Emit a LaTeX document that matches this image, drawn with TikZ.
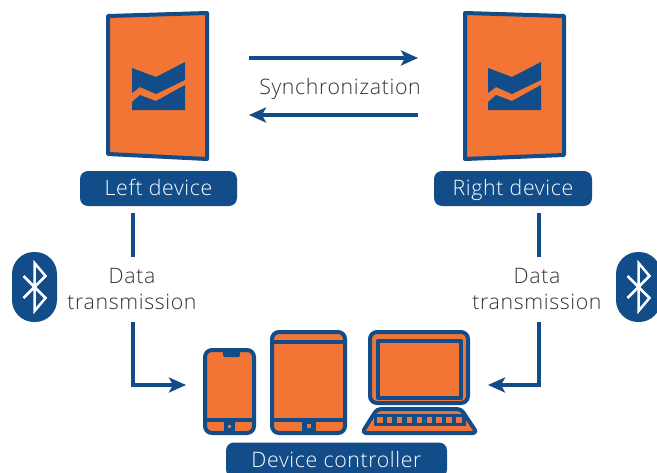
\documentclass[tikz,border=0pt]{standalone}
\usepackage{fontspec}
\setmainfont[LetterSpace=3,UprightFont=* Light]{Open Sans}
\usetikzlibrary{arrows.meta}
\definecolor{navy}{HTML}{124C89}
\definecolor{peel}{HTML}{F37535}
\tikzset{
	outline/.style={draw=navy,fill=peel,line width=4pt,line join=round},
	plainbar/.style={draw=navy,line width=4pt},
	flow/.style={navy,line width=4pt,-{Stealth[length=17pt,width=15pt,inset=4pt]}},
	wire/.style={navy,line width=4pt},
	caption/.style={fill=navy,text=white,rounded corners=8pt,minimum height=35pt,inner sep=0pt,text height=17pt,text depth=3pt,font=\fontsize{21.3}{21.3}\selectfont},
	plaintext/.style={text=black!80,inner sep=0pt,align=center,font=\fontsize{21.3}{26}\selectfont},
	oval/.style={fill=navy,rounded corners=22pt,minimum width=45pt,minimum height=70pt,inner sep=0pt},
	rune/.style={draw=white,line width=2.5pt,line join=miter}
}
\begin{document}
\begin{tikzpicture}[x=1pt,y=-1pt]
	\clip (0,0) rectangle (657,472);
	% earbuds
	\draw[outline] (108,16) -- (207,13) -- (207,159) -- (108,154) -- cycle;
	\draw[outline] (465,13) -- (564,16) -- (564,155) -- (465,159) -- cycle;
	\foreach \shiftx in {0,356} {
		\begin{scope}[xshift=\shiftx pt]
			\fill[navy] (132,68) -- (156,77) -- (185,62) -- (185,80) -- (156,94) -- (140,87) -- (132,93) -- cycle;
			\fill[navy] (132,102) -- (140,95) -- (156,101) -- (185,85) -- (185,110) -- (132,110) -- cycle;
		\end{scope}
	}
	\node[caption,minimum width=157pt] (left) at (158.5,188.5) {Left device};
	\node[caption,minimum width=158pt] (right) at (513,188.5) {Right device};
	\node[caption,minimum width=221pt] (controller) at (336.5,460) {Device controller};
	% sync
	\coordinate (syncleft) at (249,58);
	\coordinate (syncright) at (418,58);
	\coordinate (backright) at (418,115);
	\coordinate (backleft) at (249,115);
	\draw[flow] (syncleft) -- (syncright);
	\draw[flow] (backright) -- (backleft);
	\node[plaintext] (sync) at (340,89) {Synchronization};
	% data links
	\node[plaintext] (leftdata) at (132,289) {Data\\transmission};
	\node[plaintext] (rightdata) at (537,289) {Data\\transmission};
	\coordinate (lefttop) at (133,213);
	\coordinate (leftgap) at (133,257);
	\coordinate (leftdown) at (133,322);
	\coordinate (phonein) at (186,385);
	\coordinate (righttop) at (539,213);
	\coordinate (rightgap) at (539,257);
	\coordinate (rightdown) at (539,322);
	\coordinate (laptopin) at (488,385);
	\draw[wire] (lefttop) -- (leftgap);
	\draw[wire] (righttop) -- (rightgap);
	\draw[flow] (leftdown) |- (phonein);
	\draw[flow] (rightdown) |- (laptopin);
	% bluetooth
	\node[oval] (btleft) at (34.5,287) {};
	\node[oval] (btright) at (638.5,287) {};
	\foreach \n in {btleft,btright} {
		\draw[rune] ([shift={(-11,-11)}]\n.center) -- ([shift={(11,11)}]\n.center) -- ([shift={(0,24)}]\n.center) -- ([shift={(0,-24)}]\n.center) -- ([shift={(11,-11)}]\n.center) -- ([shift={(-11,11)}]\n.center);
	}
	% phone
	\draw[outline,rounded corners=7pt] (205,350) rectangle (254,433);
	\draw[plainbar] (205,420) -- (254,420);
	\fill[navy,rounded corners=2pt] (223,350) rectangle (240,357);
	\fill[navy] (224,420) rectangle (235,433);
	\fill[peel] (228,425) rectangle (231,428);
	% tablet
	\draw[outline,rounded corners=7pt] (272,332) rectangle (345,433);
	\draw[plainbar] (272,342) -- (345,342);
	\draw[plainbar] (272,420) -- (345,420);
	\fill[navy] (302,420) rectangle (316,433);
	\fill[peel] (307,424) rectangle (311,428);
	% laptop
	\draw[outline,rounded corners=7pt] (370,332) rectangle (468,403);
	\draw[outline] (378,341) rectangle (461,398);
	\draw[outline,rounded corners=4pt] (377,409) -- (461,409) -- (477,433) -- (362,433) -- cycle;
	\fill[navy] (374,414) rectangle (466,426);
	\foreach \i in {0,...,8} {
		\fill[peel] (377+\i*9.9,416.5) rectangle ++(5.5,6);
	}
\end{tikzpicture}
\end{document}
